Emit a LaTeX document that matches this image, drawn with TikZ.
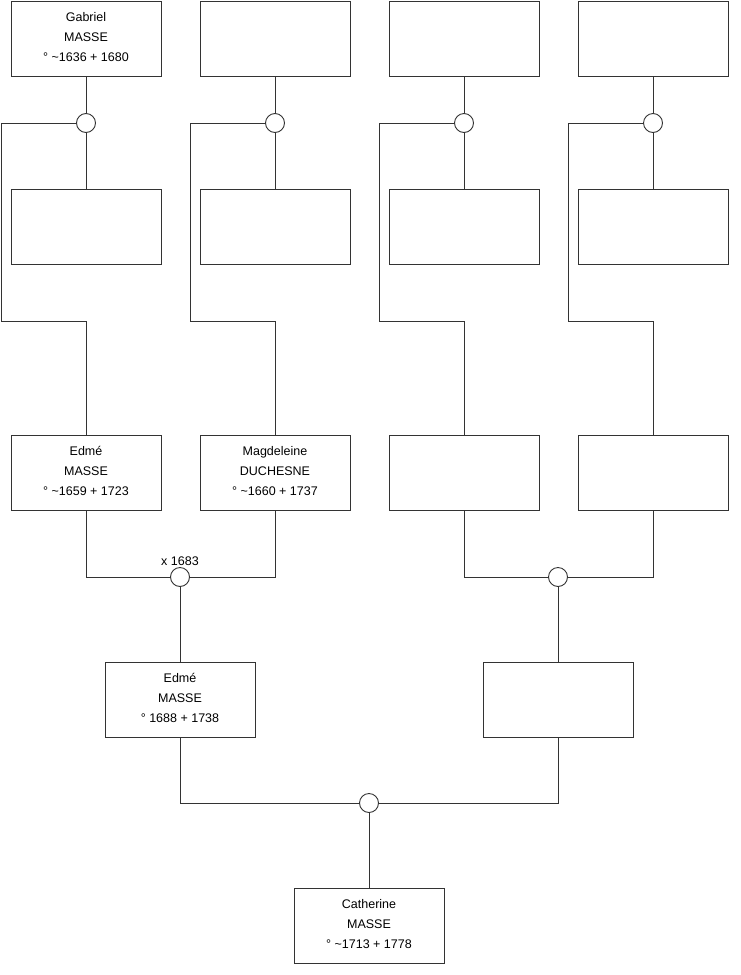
\documentclass[tikz,border=0pt]{standalone}
\usepackage{fontspec}
\setmainfont{Liberation Sans}
\usepackage{tikz}
\usetikzlibrary{positioning}
\definecolor{tgLine}{HTML}{333333}

\begin{document}
\begin{tikzpicture}[x=1pt,y=-1pt,font=\fontsize{12.5}{20}\selectfont,
  pers/.style={draw=tgLine,line width=0.9pt,minimum width=150pt,
               minimum height=75pt,align=center,inner sep=0pt,text depth=4pt},
  un/.style={circle,draw=tgLine,fill=white,line width=0.9pt,minimum size=19pt,inner sep=0pt},
  lk/.style={tgLine,line width=0.9pt}]
\useasboundingbox (0,0) rectangle (740,975);
\node[pers] (gabriel) at (86,38.5)  {Gabriel\\MASSE\\° \textasciitilde1636 + 1680};
\node[pers] (t2)      at (275,38.5) {};
\node[pers] (t3)      at (464,38.5) {};
\node[pers] (t4)      at (653,38.5) {};

\node[un] (u1) at (86,123)  {};
\node[un] (u2) at (275,123) {};
\node[un] (u3) at (464,123) {};
\node[un] (u4) at (653,123) {};

\node[pers] (s1) at (86,227)  {};
\node[pers] (s2) at (275,227) {};
\node[pers] (s3) at (464,227) {};
\node[pers] (s4) at (653,227) {};

\node[pers] (edme1) at (86,473)  {Edmé\\MASSE\\° \textasciitilde1659 + 1723};
\node[pers] (magd)  at (275,473) {Magdeleine\\DUCHESNE\\° \textasciitilde1660 + 1737};
\node[pers] (r3)    at (464,473) {};
\node[pers] (r4)    at (653,473) {};

\node[un,label={[yshift=-2pt]above:x 1683}] (m1) at (180,577) {};
\node[un] (m2) at (558,577) {};

\node[pers] (edme2) at (180,699.5) {Edmé\\MASSE\\° 1688 + 1738};
\node[pers] (r4b)   at (558,699.5) {};

\node[un] (m3) at (369,803) {};
\node[pers] (catherine) at (369,925.5) {Catherine\\MASSE\\° \textasciitilde1713 + 1778};

\foreach \t/\u/\s in {gabriel/u1/s1,t2/u2/s2,t3/u3/s3,t4/u4/s4}{
  \draw[lk] (\t) -- (\u);
  \draw[lk] (\u) -- (\s);
}
\draw[lk] (u1.west) -| (1,321) -| (edme1.north);
\draw[lk] (u2.west) -| (190,321) -| (magd.north);
\draw[lk] (u3.west) -| (379,321) -| (r3.north);
\draw[lk] (u4.west) -| (568,321) -| (r4.north);

\draw[lk] (edme1.south) |- (m1);
\draw[lk] (magd.south) |- (m1);
\draw[lk] (r3.south) |- (m2);
\draw[lk] (r4.south) |- (m2);
\draw[lk] (m1) -- (edme2);
\draw[lk] (m2) -- (r4b);

\draw[lk] (edme2.south) |- (m3);
\draw[lk] (r4b.south) |- (m3);
\draw[lk] (m3) -- (catherine);
\end{tikzpicture}
\end{document}
